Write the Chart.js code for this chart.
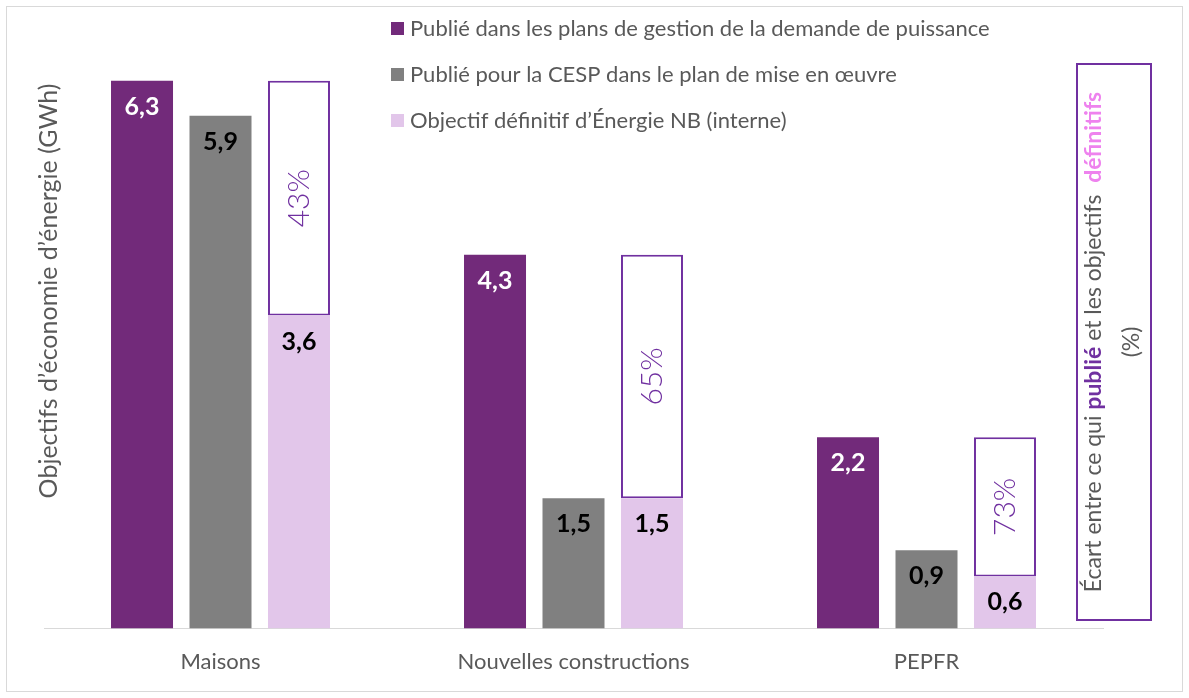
<!DOCTYPE html>
<html>
<head>
<meta charset="utf-8">
<script src="https://cdn.jsdelivr.net/npm/chart.js@4"></script>
<style>
  html, body { margin: 0; padding: 0; background: #fff; }
  #wrap { width: 1189px; height: 698px; }
</style>
</head>
<body>
<div id="wrap"><canvas id="myChart" width="1189" height="698"></canvas></div>
<script>
const categories = ['Maisons', 'Nouvelles constructions', 'PEPFR'];
const publieDemande = [6.3, 4.3, 2.2];
const publieCesp = [5.9, 1.5, 0.9];
const objectifDefinitif = [3.6, 1.5, 0.6];
const ecartPct = ['43%', '65%', '73%'];
const seriesNames = [
  'Publié dans les plans de gestion de la demande de puissance',
  'Publié pour la CESP dans le plan de mise en œuvre',
  'Objectif définitif d’Énergie NB (interne)'
];
// the white box on top of the pink bar = gap up to the published value
const ecart = publieDemande.map((v, i) => +(v - objectifDefinitif[i]).toFixed(1));

const PURPLE = '#722a7a';
const GREY = '#808080';
const PINK = '#e2c6ea';
const BOX = '#7030a0';
const TXT = '#595959';
const FONT = 'Lato, "Open Sans", sans-serif';

const data = {
  labels: categories,
  datasets: [
    { label: seriesNames[0], data: publieDemande, backgroundColor: PURPLE, stack: 'a' },
    { label: seriesNames[1], data: publieCesp, backgroundColor: GREY, stack: 'b' },
    { label: seriesNames[2], data: objectifDefinitif, backgroundColor: PINK, stack: 'c' },
    { label: 'Écart', data: ecart, backgroundColor: '#ffffff', borderColor: BOX,
      borderWidth: 2, borderSkipped: false, stack: 'c' }
  ]
};

const extras = {
  id: 'extras',
  beforeDraw(chart) {
    const ctx = chart.ctx;
    ctx.save();
    ctx.strokeStyle = '#d9d9d9';
    ctx.lineWidth = 1;
    ctx.strokeRect(6.5, 6.5, 1176, 685);
    ctx.restore();
  },
  afterDatasetsDraw(chart) {
    const ctx = chart.ctx;
    ctx.save();
    // values inside the bars
    ctx.font = 'bold 25px ' + FONT;
    ctx.textAlign = 'center';
    ctx.textBaseline = 'middle';
    [0, 1, 2].forEach(di => {
      chart.getDatasetMeta(di).data.forEach((bar, i) => {
        const v = chart.data.datasets[di].data[i];
        ctx.fillStyle = di === 0 ? '#ffffff' : '#000000';
        ctx.fillText(v.toFixed(1).replace('.', ','), bar.x, bar.y + 26);
      });
    });
    // percentages in the boxes
    ctx.font = '300 30px ' + FONT;
    ctx.fillStyle = BOX;
    chart.getDatasetMeta(3).data.forEach((bar, i) => {
      ctx.save();
      ctx.translate(bar.x, (bar.y + bar.base) / 2);
      ctx.rotate(-Math.PI / 2);
      ctx.fillText(ecartPct[i], 0, 0);
      ctx.restore();
    });

    // y axis title
    ctx.save();
    ctx.font = '25px ' + FONT;
    ctx.fillStyle = TXT;
    ctx.translate(49, 291);
    ctx.rotate(-Math.PI / 2);
    ctx.fillText('Objectifs d’économie d’énergie (GWh)', 0, 0);
    ctx.restore();

    // legend
    const colors = [PURPLE, GREY, PINK];
    ctx.font = '22px ' + FONT;
    ctx.textAlign = 'left';
    seriesNames.forEach((name, i) => {
      const y = 29 + i * 46;
      ctx.fillStyle = colors[i];
      ctx.fillRect(391, y - 7, 13, 13);
      ctx.fillStyle = TXT;
      ctx.fillText(name, 410, y);
    });

    // right side box
    ctx.strokeStyle = BOX;
    ctx.lineWidth = 2;
    ctx.strokeRect(1077, 64, 74, 556);
    ctx.save();
    ctx.translate(1113, 342);
    ctx.rotate(-Math.PI / 2);
    const parts = [
      ['Écart entre ce qui ', '23px ', TXT],
      ['publié', 'bold 23px ', BOX],
      [' et les objectifs  ', '23px ', TXT],
      ['définitifs', 'bold 23px ', '#ee82ee']
    ];
    let total = 0;
    parts.forEach(p => { ctx.font = p[1] + FONT; total += ctx.measureText(p[0]).width; });
    let x = -total / 2;
    ctx.textAlign = 'left';
    parts.forEach(p => {
      ctx.font = p[1] + FONT;
      ctx.fillStyle = p[2];
      ctx.fillText(p[0], x, -19);
      x += ctx.measureText(p[0]).width;
    });
    ctx.font = '23px ' + FONT;
    ctx.fillStyle = TXT;
    ctx.textAlign = 'center';
    ctx.fillText('(%)', 0, 19);
    ctx.restore();
    ctx.restore();
  }
};

const config = {
  type: 'bar',
  data: data,
  options: {
    responsive: false,
    animation: false,
    layout: { padding: { left: 44, right: 86, top: 20, bottom: 3 } },
    datasets: { bar: { barPercentage: 0.79, categoryPercentage: 0.667 } },
    plugins: { legend: { display: false }, tooltip: { enabled: false } },
    scales: {
      x: {
        grid: { display: false, drawTicks: false },
        border: { color: '#d9d9d9', width: 1 },
        ticks: { color: TXT, font: { family: FONT, size: 22 }, padding: 20 }
      },
      y: {
        display: false,
        stacked: true,
        min: 0,
        max: 7
      }
    }
  },
  plugins: [extras]
};

const myChart = new Chart(document.getElementById('myChart'), config);
</script>
</body>
</html>
